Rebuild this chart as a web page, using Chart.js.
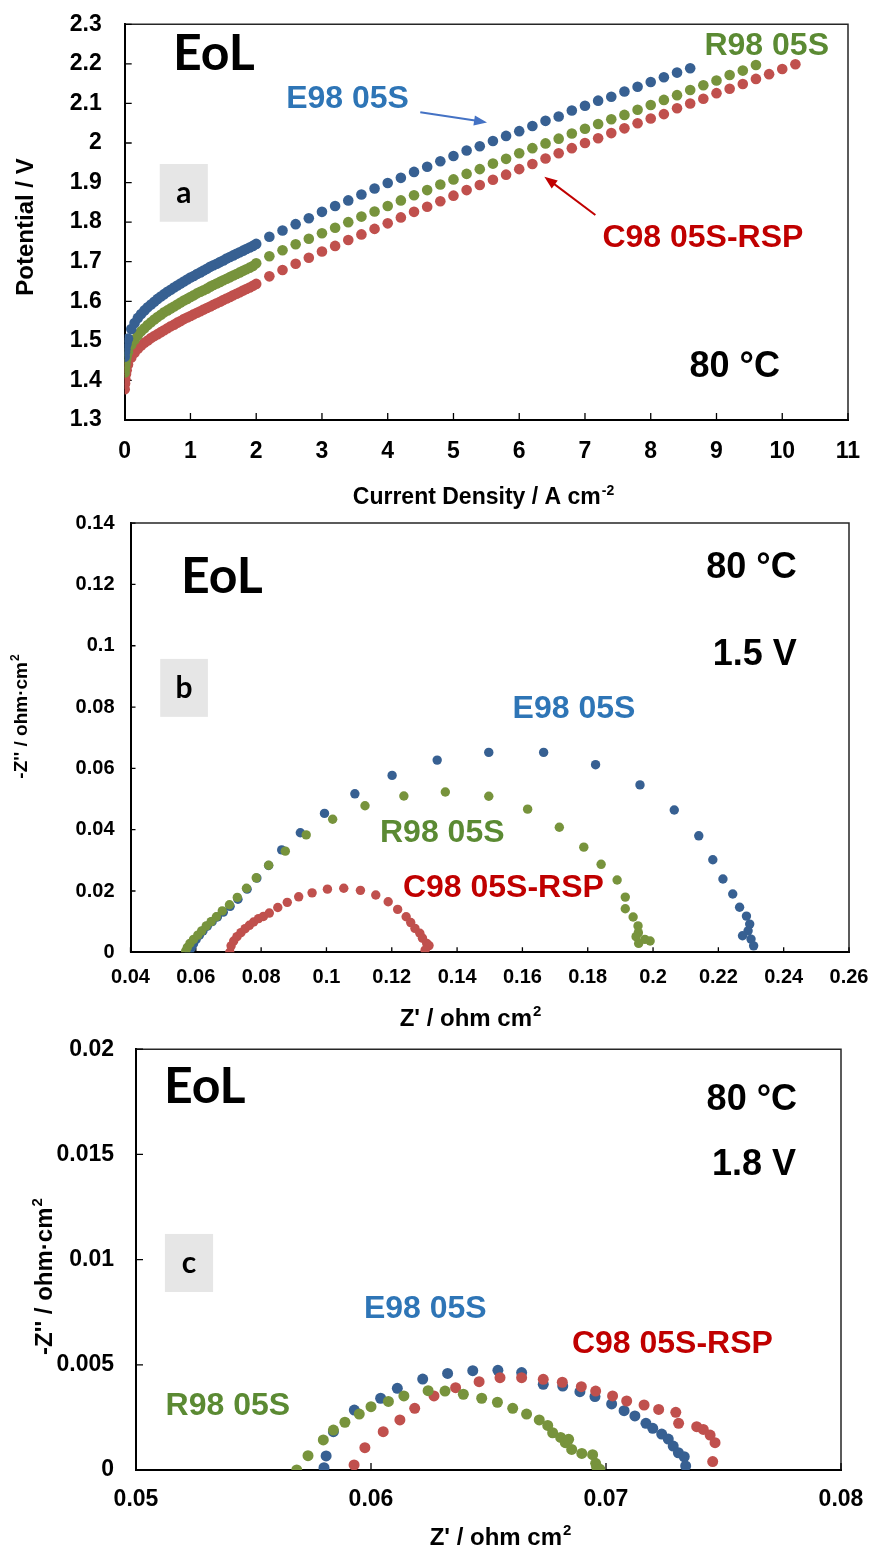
<!DOCTYPE html>
<html>
<head>
<meta charset="utf-8">
<title>EoL polarisation and impedance</title>
<script src="https://cdn.jsdelivr.net/npm/chart.js@4.4.1/dist/chart.umd.min.js"></script>
<style>
  body { margin: 0; background: #fff; }
  canvas { position: absolute; left: 0; }
</style>
</head>
<body>
<canvas id="chartA" width="870" height="510" style="top:0px"></canvas>
<canvas id="chartB" width="870" height="520" style="top:510px"></canvas>
<canvas id="chartC" width="870" height="519" style="top:1030px"></canvas>
<script>
// ---- panel a: polarisation curves (current density A cm-2 / potential V)
const currentLow = [0, 0.005, 0.01, 0.02, 0.03,
    0.05, 0.1, 0.15, 0.2, 0.25, 0.3, 0.35, 0.4, 0.45, 0.5,
    0.55, 0.6, 0.65, 0.7, 0.75, 0.8, 0.85, 0.9, 0.95, 1.0,
    1.05, 1.1, 1.15, 1.2, 1.25, 1.3, 1.35, 1.4, 1.45, 1.5,
    1.55, 1.6, 1.65, 1.7, 1.75, 1.8, 1.85, 1.9, 1.95, 2.0];
const currentHigh = [2.2, 2.4, 2.6, 2.8, 3.0, 3.2, 3.4, 3.6, 3.8, 4.0,
    4.2, 4.4, 4.6, 4.8, 5.0, 5.2, 5.4, 5.6, 5.8, 6.0,
    6.2, 6.4, 6.6, 6.8, 7.0, 7.2, 7.4, 7.6, 7.8, 8.0,
    8.2, 8.4, 8.6, 8.8, 9.0, 9.2, 9.4, 9.6, 9.8, 10.0, 10.2];

const e98PotLow = [1.460, 1.471, 1.479, 1.489, 1.496,
    1.506, 1.530, 1.545, 1.558, 1.568, 1.577, 1.585, 1.592, 1.599, 1.606,
    1.612, 1.618, 1.624, 1.629, 1.635, 1.640, 1.645, 1.650, 1.655, 1.660,
    1.664, 1.669, 1.673, 1.678, 1.682, 1.687, 1.691, 1.695, 1.699, 1.703,
    1.708, 1.712, 1.716, 1.720, 1.724, 1.728, 1.732, 1.736, 1.740, 1.745];
const e98PotHigh = [1.763, 1.779, 1.795, 1.810, 1.826, 1.841, 1.855, 1.870, 1.885, 1.899,
    1.912, 1.927, 1.940, 1.954, 1.967, 1.981, 1.992, 2.005, 2.018, 2.030,
    2.043, 2.056, 2.067, 2.082, 2.094, 2.107, 2.117, 2.130, 2.142, 2.154,
    2.166, 2.178, 2.189];

const r98PotLow = [1.420, 1.432, 1.441, 1.453, 1.461,
    1.472, 1.490, 1.503, 1.514, 1.524, 1.532, 1.540, 1.547, 1.554, 1.560,
    1.566, 1.572, 1.577, 1.582, 1.587, 1.592, 1.597, 1.602, 1.606, 1.611,
    1.615, 1.620, 1.624, 1.628, 1.632, 1.637, 1.641, 1.645, 1.649, 1.653,
    1.657, 1.661, 1.665, 1.669, 1.673, 1.677, 1.681, 1.685, 1.689, 1.696];
const r98PotHigh = [1.714, 1.729, 1.744, 1.758, 1.772, 1.786, 1.800, 1.814, 1.827, 1.841,
    1.855, 1.868, 1.881, 1.895, 1.908, 1.922, 1.934, 1.948, 1.960, 1.974,
    1.987, 1.999, 2.011, 2.024, 2.036, 2.048, 2.060, 2.071, 2.084, 2.096,
    2.109, 2.121, 2.134, 2.146, 2.158, 2.172, 2.183, 2.197];

const c98PotLow = [1.378, 1.392, 1.403, 1.416, 1.426,
    1.440, 1.458, 1.470, 1.480, 1.488, 1.495, 1.501, 1.507, 1.512, 1.517,
    1.522, 1.527, 1.532, 1.537, 1.541, 1.546, 1.550, 1.555, 1.559, 1.563,
    1.567, 1.571, 1.575, 1.579, 1.583, 1.587, 1.591, 1.595, 1.599, 1.603,
    1.607, 1.611, 1.615, 1.619, 1.623, 1.627, 1.631, 1.635, 1.639, 1.644];
const c98PotHigh = [1.663, 1.679, 1.695, 1.710, 1.726, 1.740, 1.755, 1.769, 1.783, 1.797,
    1.812, 1.826, 1.839, 1.853, 1.867, 1.881, 1.894, 1.907, 1.920, 1.934,
    1.947, 1.961, 1.974, 1.987, 2.000, 2.012, 2.025, 2.037, 2.050, 2.062,
    2.073, 2.088, 2.100, 2.112, 2.126, 2.137, 2.149, 2.162, 2.174, 2.187, 2.199];

const currentTicks = [0, 1, 2, 3, 4, 5, 6, 7, 8, 9, 10, 11];
const potentialTicks = [1.3, 1.4, 1.5, 1.6, 1.7, 1.8, 1.9, 2, 2.1, 2.2, 2.3];

// ---- panel b: impedance at 1.5 V (Z' / -Z'' in ohm cm2)
const e98ReB = [0.0580, 0.0586, 0.0593, 0.0601, 0.0611, 0.0622, 0.0635, 0.0650, 0.0666, 0.0684,
    0.0705, 0.0729, 0.0757, 0.0787, 0.0823, 0.0863, 0.0920, 0.0994, 0.1087, 0.1201,
    0.1339, 0.1497, 0.1665, 0.1824, 0.1960, 0.2065, 0.2140, 0.2183, 0.2214, 0.2244,
    0.2265, 0.2286, 0.2296, 0.2291, 0.2274, 0.2300, 0.2308];
const e98ImB = [0.0000, 0.0014, 0.0028, 0.0042, 0.0056, 0.0070, 0.0085, 0.0100, 0.0115, 0.0131,
    0.0150, 0.0173, 0.0206, 0.0242, 0.0283, 0.0334, 0.0390, 0.0453, 0.0517, 0.0577,
    0.0627, 0.0652, 0.0652, 0.0612, 0.0546, 0.0464, 0.0380, 0.0302, 0.0239, 0.0190,
    0.0147, 0.0118, 0.0092, 0.0070, 0.0054, 0.0043, 0.0021];

const r98ReB = [0.0569, 0.0574, 0.0582, 0.0593, 0.0606, 0.0618, 0.0632, 0.0647, 0.0663, 0.0681,
    0.0703, 0.0727, 0.0755, 0.0785, 0.0823, 0.0874, 0.0938, 0.1019, 0.1118, 0.1237,
    0.1364, 0.1497, 0.1616, 0.1713, 0.1788, 0.1841, 0.1890, 0.1915, 0.1915, 0.1939,
    0.1954, 0.1955, 0.1948, 0.1956, 0.1975, 0.1991];
const r98ImB = [0.0004, 0.0016, 0.0029, 0.0042, 0.0056, 0.0070, 0.0086, 0.0100, 0.0116, 0.0135,
    0.0155, 0.0179, 0.0209, 0.0243, 0.0284, 0.0330, 0.0383, 0.0434, 0.0478, 0.0510,
    0.0523, 0.0509, 0.0467, 0.0408, 0.0343, 0.0287, 0.0236, 0.0180, 0.0142, 0.0115,
    0.0086, 0.0064, 0.0051, 0.0029, 0.0042, 0.0037];

const c98ReB = [0.0704, 0.0708, 0.0716, 0.0726, 0.0738, 0.0751, 0.0764, 0.0777, 0.0792, 0.0807,
    0.0825, 0.0851, 0.0880, 0.0915, 0.0956, 0.1003, 0.1053, 0.1104, 0.1151, 0.1189,
    0.1218, 0.1244, 0.1258, 0.1271, 0.1286, 0.1294, 0.1307, 0.1314, 0.1302];
const c98ImB = [0.0000, 0.0021, 0.0037, 0.0051, 0.0064, 0.0077, 0.0088, 0.0099, 0.0110, 0.0117,
    0.0128, 0.0146, 0.0163, 0.0181, 0.0194, 0.0206, 0.0209, 0.0202, 0.0187, 0.0165,
    0.0140, 0.0116, 0.0097, 0.0078, 0.0062, 0.0046, 0.0029, 0.0022, 0.0007];

const reTicksB = [0.04, 0.06, 0.08, 0.1, 0.12, 0.14, 0.16, 0.18, 0.2, 0.22, 0.24, 0.26];
const imTicksB = [0, 0.02, 0.04, 0.06, 0.08, 0.1, 0.12, 0.14];

// ---- panel c: impedance at 1.8 V
const e98ReC = [0.05800, 0.05809, 0.05840, 0.05929, 0.06041, 0.06112, 0.06220, 0.06326, 0.06433, 0.06540,
    0.06641, 0.06733, 0.06816, 0.06889, 0.06953, 0.07024, 0.07077, 0.07123, 0.07170, 0.07199,
    0.07237, 0.07265, 0.07286, 0.07308, 0.07333, 0.07339];
const e98ImC = [0.00011, 0.00067, 0.00182, 0.00285, 0.00341, 0.00388, 0.00432, 0.00459, 0.00472, 0.00474,
    0.00463, 0.00407, 0.00399, 0.00372, 0.00349, 0.00314, 0.00282, 0.00257, 0.00222, 0.00198,
    0.00171, 0.00147, 0.00114, 0.00082, 0.00063, 0.00019];

const r98ReC = [0.05684, 0.05732, 0.05797, 0.05840, 0.05889, 0.05950, 0.06000, 0.06074, 0.06140, 0.06243,
    0.06315, 0.06393, 0.06471, 0.06538, 0.06603, 0.06662, 0.06716, 0.06752, 0.06773, 0.06807,
    0.06827, 0.06841, 0.06854, 0.06897, 0.06943, 0.06956, 0.06960, 0.06974];
const r98ImC = [0.00000, 0.00068, 0.00143, 0.00190, 0.00227, 0.00266, 0.00301, 0.00326, 0.00352, 0.00377,
    0.00375, 0.00360, 0.00341, 0.00322, 0.00293, 0.00266, 0.00238, 0.00212, 0.00177, 0.00155,
    0.00130, 0.00146, 0.00098, 0.00079, 0.00073, 0.00032, 0.00015, 0.00003];

const c98ReC = [0.05928, 0.05974, 0.06052, 0.06123, 0.06186, 0.06268, 0.06360, 0.06460, 0.06549, 0.06641,
    0.06733, 0.06814, 0.06895, 0.06956, 0.07028, 0.07088, 0.07162, 0.07224, 0.07297, 0.07309,
    0.07386, 0.07414, 0.07443, 0.07464, 0.07454];
const c98ImC = [0.00024, 0.00106, 0.00182, 0.00238, 0.00293, 0.00352, 0.00391, 0.00420, 0.00439, 0.00439,
    0.00431, 0.00417, 0.00396, 0.00375, 0.00352, 0.00328, 0.00309, 0.00288, 0.00274, 0.00222,
    0.00206, 0.00193, 0.00166, 0.00130, 0.00040];

const reTicksC = [0.05, 0.06, 0.07, 0.08];
const imTicksC = [0, 0.005, 0.01, 0.015, 0.02];

// colours and fonts
const BLUE = '#376092', GREEN = '#77933c', RED = '#c0504d';
const BLUE_TXT = '#2e75b6', GREEN_TXT = '#5b8a33', RED_TXT = '#c00000';
const SANS = '"Liberation Sans", Arial, Helvetica, sans-serif';
const NARROW = 'Lato, "Liberation Sans", sans-serif';

function toPoints(xs, ys) {
    return ys.map((y, i) => ({ x: xs[i], y: y }));
}

function series(label, points, color, radius) {
    return {
        label: label,
        data: points,
        backgroundColor: color,
        borderColor: color,
        borderWidth: 0,
        pointRadius: radius,
        pointHoverRadius: radius,
        showLine: false
    };
}

// text with an optional superscript tail
function drawSupText(ctx, text, sup, size, x, y, align) {
    ctx.font = 'bold ' + size + 'px ' + SANS;
    const w1 = ctx.measureText(text).width;
    const supSize = Math.round(size * 0.62);
    ctx.font = 'bold ' + supSize + 'px ' + SANS;
    const w2 = sup ? ctx.measureText(sup).width : 0;
    let start = x;
    if (align === 'center') start = x - (w1 + w2) / 2;
    ctx.textAlign = 'left';
    ctx.textBaseline = 'alphabetic';
    ctx.font = 'bold ' + size + 'px ' + SANS;
    ctx.fillText(text, start, y);
    if (sup) {
        ctx.font = 'bold ' + supSize + 'px ' + SANS;
        ctx.fillText(sup, start + w1 + 1, y - size * 0.4);
    }
}

function drawArrow(ctx, x0, y0, x1, y1, color) {
    const ang = Math.atan2(y1 - y0, x1 - x0);
    const head = 13, half = 5;
    ctx.strokeStyle = color;
    ctx.fillStyle = color;
    ctx.lineWidth = 2;
    ctx.beginPath();
    ctx.moveTo(x0, y0);
    ctx.lineTo(x1 - head * 0.8 * Math.cos(ang), y1 - head * 0.8 * Math.sin(ang));
    ctx.stroke();
    ctx.beginPath();
    ctx.moveTo(x1, y1);
    ctx.lineTo(x1 - head * Math.cos(ang) + half * Math.sin(ang), y1 - head * Math.sin(ang) - half * Math.cos(ang));
    ctx.lineTo(x1 - head * Math.cos(ang) - half * Math.sin(ang), y1 - head * Math.sin(ang) + half * Math.cos(ang));
    ctx.closePath();
    ctx.fill();
}

// frame, inner ticks, labels, arrows and axis titles of one panel
function decorPlugin(d) {
    return {
        id: 'decor',
        beforeDatasetsDraw(chart) {
            const ctx = chart.ctx, a = chart.chartArea;
            const xs = chart.scales.x, ys = chart.scales.y;
            ctx.save();
            ctx.strokeStyle = '#262626';
            ctx.lineWidth = 1.5;
            ctx.beginPath();
            ctx.moveTo(a.left, a.top);
            ctx.lineTo(a.right, a.top);
            ctx.lineTo(a.right, a.bottom);
            ctx.stroke();

            ctx.strokeStyle = '#000';
            ctx.lineWidth = 1.3;
            ctx.beginPath();
            xs.ticks.forEach(t => {
                const px = xs.getPixelForValue(t.value);
                ctx.moveTo(px, a.bottom);
                ctx.lineTo(px, a.bottom - d.tick);
            });
            ys.ticks.forEach(t => {
                const py = ys.getPixelForValue(t.value);
                ctx.moveTo(a.left, py);
                ctx.lineTo(a.left + d.tick, py);
            });
            ctx.stroke();

            // grey letter box
            const b = d.box;
            const bx0 = xs.getPixelForValue(b.x0), bx1 = xs.getPixelForValue(b.x1);
            const by0 = ys.getPixelForValue(b.y0), by1 = ys.getPixelForValue(b.y1);
            ctx.fillStyle = '#e6e6e6';
            ctx.fillRect(bx0, by0, bx1 - bx0, by1 - by0);
            ctx.fillStyle = '#000';
            ctx.font = 'bold 30px ' + NARROW;
            ctx.textAlign = 'center';
            ctx.textBaseline = 'middle';
            ctx.fillText(b.text, (bx0 + bx1) / 2, (by0 + by1) / 2);
            ctx.restore();
        },
        afterDatasetsDraw(chart) {
            const ctx = chart.ctx;
            const xs = chart.scales.x, ys = chart.scales.y;
            ctx.save();
            d.texts.forEach(t => {
                ctx.fillStyle = t.color;
                ctx.font = 'bold ' + t.size + 'px ' + (t.family || SANS);
                ctx.textAlign = t.align || 'left';
                ctx.textBaseline = 'alphabetic';
                ctx.fillText(t.text, xs.getPixelForValue(t.x), ys.getPixelForValue(t.y));
            });
            (d.arrows || []).forEach(ar => {
                drawArrow(ctx, xs.getPixelForValue(ar.from[0]), ys.getPixelForValue(ar.from[1]),
                    xs.getPixelForValue(ar.to[0]), ys.getPixelForValue(ar.to[1]), ar.color);
            });

            ctx.fillStyle = '#000';
            const xt = d.xTitle;
            drawSupText(ctx, xt.text, xt.sup, xt.size, xt.cx, xt.base, 'center');

            const yt = d.yTitle;
            ctx.translate(yt.cx, yt.cy);
            ctx.rotate(-Math.PI / 2);
            drawSupText(ctx, yt.text, yt.sup, yt.size, 0, yt.size * 0.36, 'center');
            ctx.restore();
        }
    };
}

function makePanel(id, datasets, ax, d) {
    const fixTicks = list => scale => { scale.ticks = list.map(v => ({ value: v })); };
    return new Chart(document.getElementById(id), {
        type: 'scatter',
        data: { datasets: datasets },
        options: {
            responsive: false,
            animation: false,
            events: [],
            layout: { padding: ax.padding },
            plugins: { legend: { display: false }, tooltip: { enabled: false } },
            scales: {
                x: {
                    type: 'linear',
                    min: ax.xMin, max: ax.xMax,
                    afterBuildTicks: fixTicks(ax.xTicks),
                    // fixed axis band; label overhang is left to the layout padding
                    afterFit: s => { s.height = ax.xHeight; s.paddingLeft = 0; s.paddingRight = 0; },
                    grid: { display: false, drawTicks: false },
                    border: { display: true, color: '#000', width: 2 },
                    ticks: {
                        color: '#000', padding: ax.xPad, autoSkip: false, maxRotation: 0,
                        font: { family: SANS, size: ax.tickSize, weight: 'bold' },
                        callback: v => String(v)
                    }
                },
                y: {
                    type: 'linear',
                    min: ax.yMin, max: ax.yMax,
                    afterBuildTicks: fixTicks(ax.yTicks),
                    afterFit: s => { s.width = ax.yWidth; s.paddingTop = 0; s.paddingBottom = 0; },
                    grid: { display: false, drawTicks: false },
                    border: { display: true, color: '#000', width: 2 },
                    ticks: {
                        color: '#000', padding: ax.yPad, autoSkip: false,
                        font: { family: SANS, size: ax.tickSize, weight: 'bold' },
                        callback: v => String(v)
                    }
                }
            }
        },
        plugins: [decorPlugin(d)]
    });
}

// panel a
makePanel('chartA', [
    series('E98 05S', toPoints(currentLow, e98PotLow).concat(toPoints(currentHigh, e98PotHigh)), BLUE, 5.3),
    series('R98 05S', toPoints(currentLow, r98PotLow).concat(toPoints(currentHigh, r98PotHigh)), GREEN, 5.3),
    series('C98 05S-RSP', toPoints(currentLow, c98PotLow).concat(toPoints(currentHigh, c98PotHigh)), RED, 5.3)
], {
    xMin: 0, xMax: 11, yMin: 1.3, yMax: 2.3,
    xTicks: currentTicks, yTicks: potentialTicks,
    padding: { left: 0, top: 24.3, right: 22, bottom: 0 },
    xHeight: 90, yWidth: 124.7, xPad: 18, yPad: 23, tickSize: 23
}, {
    tick: 7,
    box: { x0: 0.533, x1: 1.264, y0: 1.947, y1: 1.801, text: 'a' },
    texts: [
        { text: 'EoL', x: 0.735, y: 2.185, size: 50, color: '#000', family: NARROW },
        { text: 'E98 05S', x: 2.455, y: 2.088, size: 32, color: BLUE_TXT },
        { text: 'R98 05S', x: 8.817, y: 2.222, size: 32, color: GREEN_TXT },
        { text: 'C98 05S-RSP', x: 7.265, y: 1.737, size: 32, color: RED_TXT },
        { text: '80 °C', x: 8.59, y: 1.409, size: 36, color: '#000' }
    ],
    arrows: [
        { from: [4.495, 2.078], to: [5.51, 2.052], color: '#4472c4' },
        { from: [7.158, 1.818], to: [6.382, 1.915], color: '#c00000' }
    ],
    xTitle: { text: 'Current Density / A cm', sup: '-2', size: 23, cx: 483, base: 504 },
    yTitle: { text: 'Potential / V', sup: '', size: 24, cx: 24, cy: 227 }
});

// panel b
makePanel('chartB', [
    series('R98 05S', toPoints(r98ReB, r98ImB), GREEN, 4.7),
    series('E98 05S', toPoints(e98ReB, e98ImB), BLUE, 4.7),
    series('C98 05S-RSP', toPoints(c98ReB, c98ImB), RED, 4.7)
], {
    xMin: 0.04, xMax: 0.26, yMin: 0, yMax: 0.14,
    xTicks: reTicksB, yTicks: imTicksB,
    padding: { left: 0, top: 13.1, right: 21, bottom: 0 },
    xHeight: 77.7, yWidth: 130.5, xPad: 13, yPad: 16, tickSize: 20
}, {
    tick: 5,
    box: { x0: 0.0491, x1: 0.0637, y0: 0.0957, y1: 0.0768, text: 'b' },
    texts: [
        { text: 'EoL', x: 0.0555, y: 0.1172, size: 50, color: '#000', family: NARROW },
        { text: '80 °C', x: 0.244, y: 0.1221, size: 36, color: '#000', align: 'right' },
        { text: '1.5 V', x: 0.244, y: 0.0937, size: 36, color: '#000', align: 'right' },
        { text: 'E98 05S', x: 0.1570, y: 0.0764, size: 32, color: BLUE_TXT },
        { text: 'R98 05S', x: 0.1164, y: 0.0360, size: 32, color: GREEN_TXT },
        { text: 'C98 05S-RSP', x: 0.1234, y: 0.0180, size: 32, color: RED_TXT }
    ],
    xTitle: { text: "Z' / ohm cm", sup: '2', size: 24, cx: 470, base: 516 },
    yTitle: { text: "-Z'' / ohm·cm", sup: '2', size: 19, cx: 20, cy: 207 }
});

// panel c
makePanel('chartC', [
    series('R98 05S', toPoints(r98ReC, r98ImC), GREEN, 5.5),
    series('C98 05S-RSP', toPoints(c98ReC, c98ImC), RED, 5.5),
    series('E98 05S', toPoints(e98ReC, e98ImC), BLUE, 5.5)
], {
    xMin: 0.05, xMax: 0.08, yMin: 0, yMax: 0.02,
    xTicks: reTicksC, yTicks: imTicksC,
    padding: { left: 0, top: 19.2, right: 29, bottom: 0 },
    xHeight: 79, yWidth: 136, xPad: 16, yPad: 22, tickSize: 23
}, {
    tick: 7,
    box: { x0: 0.05123, x1: 0.05328, y0: 0.01122, y1: 0.00846, text: 'c' },
    texts: [
        { text: 'EoL', x: 0.05119, y: 0.01744, size: 50, color: '#000', family: NARROW },
        { text: '80 °C', x: 0.07813, y: 0.01711, size: 36, color: '#000', align: 'right' },
        { text: '1.8 V', x: 0.07809, y: 0.01402, size: 36, color: '#000', align: 'right' },
        { text: 'E98 05S', x: 0.0597, y: 0.00722, size: 32, color: BLUE_TXT },
        { text: 'C98 05S-RSP', x: 0.06855, y: 0.00556, size: 32, color: RED_TXT },
        { text: 'R98 05S', x: 0.05126, y: 0.00261, size: 32, color: GREEN_TXT }
    ],
    xTitle: { text: "Z' / ohm cm", sup: '2', size: 24, cx: 500, base: 515 },
    yTitle: { text: "-Z'' / ohm·cm", sup: '2', size: 24, cx: 43, cy: 247 }
});
</script>
</body>
</html>
